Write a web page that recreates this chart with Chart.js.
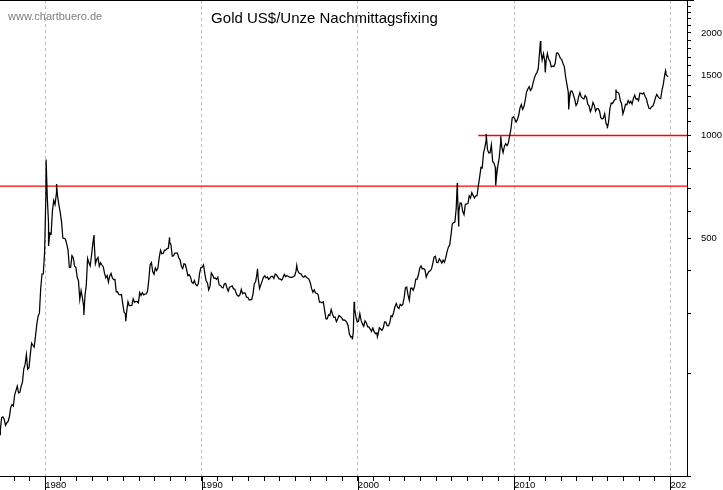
<!DOCTYPE html>
<html>
<head>
<meta charset="utf-8">
<title>Gold US$/Unze Nachmittagsfixing</title>
<script src="https://cdn.jsdelivr.net/npm/chart.js@4.4.1/dist/chart.umd.min.js"></script>
<style>
  html, body { margin: 0; padding: 0; background: #fff; }
  #goldChart { display: block; }
</style>
</head>
<body>
<canvas id="goldChart" width="723" height="490"></canvas>
<script>
// monthly fixing (US$/oz), starting January 1977
const startYear = 1977;
const gold1977to1979 = [
  132.3, 136.4, 148.4, 149.2, 146.6, 140.8, 143.4, 144.7, 149.5, 159.3, 162.0, 160.5,
  173.2, 178.2, 183.7, 175.4, 176.1, 183.7, 188.7, 206.5, 212.3, 227.2, 206.1, 207.8,
  227.3, 245.7, 242.1, 239.2, 257.6, 279.1, 294.7, 300.8, 355.2, 392.0, 392.3, 455.1
];
const gold1980s = [
  675.3, 665.3, 553.6, 517.4, 513.8, 600.7, 644.3, 626.5, 674.0, 661.1, 623.5, 594.9,
  557.4, 500.0, 498.9, 495.8, 479.7, 460.8, 409.3, 410.1, 444.0, 437.8, 413.4, 410.1,
  384.1, 374.3, 330.2, 350.5, 333.9, 314.9, 338.6, 364.3, 435.5, 422.6, 414.1, 444.3,
  481.4, 491.1, 419.7, 432.8, 438.4, 412.9, 422.8, 416.5, 411.9, 394.2, 381.8, 388.1,
  371.0, 386.9, 393.6, 381.8, 377.5, 377.7, 347.4, 347.7, 341.1, 340.2, 341.2, 320.2,
  303.0, 299.1, 304.0, 324.9, 316.5, 316.4, 317.3, 331.1, 323.8, 325.5, 325.3, 322.4,
  345.6, 338.9, 345.7, 340.4, 342.4, 342.6, 348.7, 376.6, 417.7, 423.4, 398.5, 391.3,
  408.3, 401.1, 408.9, 438.4, 460.2, 449.7, 450.6, 460.5, 460.4, 465.6, 466.8, 486.3,
  477.2, 442.1, 443.6, 451.6, 451.3, 451.6, 437.6, 431.4, 413.2, 406.5, 420.0, 418.5,
  404.0, 387.8, 390.2, 384.4, 371.0, 367.6, 375.0, 365.4, 362.0, 366.7, 394.3, 409.2
];
const gold1990s = [
  410.1, 416.8, 393.1, 374.3, 369.0, 352.3, 361.0, 394.8, 389.3, 380.7, 381.5, 378.2,
  383.7, 363.8, 363.3, 358.4, 356.8, 366.7, 367.7, 356.5, 348.8, 358.7, 360.1, 361.7,
  354.5, 353.9, 344.5, 338.6, 337.2, 340.8, 353.1, 343.0, 345.1, 344.4, 335.0, 334.8,
  329.0, 329.3, 330.1, 342.2, 367.2, 371.8, 392.0, 379.8, 355.3, 364.2, 373.6, 383.3,
  387.0, 381.7, 384.4, 378.0, 381.6, 385.6, 385.5, 380.4, 391.6, 389.8, 384.4, 379.3,
  378.6, 376.4, 382.1, 391.0, 385.1, 387.6, 386.2, 383.7, 383.1, 383.0, 385.5, 387.4,
  399.5, 404.8, 396.3, 392.9, 391.9, 385.3, 383.5, 387.5, 383.1, 381.1, 377.9, 369.3,
  355.0, 346.6, 351.8, 344.5, 343.8, 340.8, 324.1, 323.9, 322.8, 324.9, 306.0, 289.4,
  289.3, 297.5, 295.9, 308.4, 299.1, 292.3, 292.9, 284.1, 289.0, 296.1, 294.1, 291.7,
  287.1, 287.3, 285.9, 282.6, 276.4, 261.3, 256.1, 256.7, 264.7, 310.7, 293.2, 283.1
];
const gold2000s = [
  284.6, 299.9, 286.4, 279.7, 275.3, 285.7, 281.6, 274.5, 273.7, 270.1, 266.0, 272.0,
  265.5, 261.9, 263.0, 260.5, 272.4, 270.2, 267.5, 272.4, 283.4, 283.1, 276.2, 275.9,
  281.7, 295.5, 294.0, 302.7, 314.5, 321.2, 313.3, 310.3, 319.2, 316.6, 319.2, 333.4,
  356.9, 359.0, 340.6, 328.2, 355.7, 356.4, 351.0, 359.8, 378.9, 378.9, 389.9, 407.6,
  414.0, 405.3, 406.7, 403.3, 383.8, 392.4, 398.1, 400.5, 405.3, 420.5, 439.4, 442.1,
  424.0, 423.4, 434.2, 428.9, 421.9, 430.7, 424.5, 437.9, 456.1, 469.9, 476.7, 509.8,
  549.9, 555.0, 557.1, 610.6, 676.5, 596.2, 633.7, 632.6, 598.2, 585.8, 627.8, 629.8,
  631.2, 664.8, 654.9, 679.4, 666.9, 655.5, 665.3, 665.4, 712.7, 754.6, 806.3, 803.2,
  889.6, 922.3, 968.4, 909.7, 888.7, 889.5, 939.8, 839.0, 829.9, 806.6, 760.9, 816.1,
  858.7, 943.2, 924.3, 890.2, 928.6, 945.7, 934.2, 949.4, 996.6, 1043.2, 1127.0, 1134.7
];
const gold2010s = [
  1118.0, 1095.4, 1113.3, 1148.7, 1205.4, 1232.9, 1193.0, 1215.8, 1271.0, 1342.0, 1369.9, 1390.6,
  1356.4, 1372.7, 1424.0, 1473.8, 1510.4, 1528.7, 1572.8, 1755.8, 1771.9, 1665.2, 1739.0, 1652.3,
  1656.1, 1742.1, 1673.8, 1649.7, 1591.2, 1598.8, 1594.3, 1630.3, 1744.8, 1746.6, 1721.6, 1684.8,
  1671.8, 1627.6, 1593.1, 1487.9, 1414.0, 1343.4, 1285.5, 1351.7, 1348.6, 1316.6, 1275.9, 1225.4,
  1244.3, 1299.6, 1336.1, 1299.0, 1287.5, 1279.1, 1310.6, 1295.1, 1236.6, 1222.5, 1175.3, 1200.6,
  1250.8, 1227.1, 1178.6, 1198.9, 1198.6, 1181.5, 1128.3, 1117.9, 1124.8, 1159.3, 1085.7, 1068.3,
  1097.9, 1199.5, 1245.1, 1242.3, 1260.9, 1276.4, 1336.7, 1340.2, 1326.6, 1266.6, 1238.4, 1157.4,
  1192.1, 1234.2, 1231.4, 1266.9, 1246.0, 1260.3, 1236.8, 1283.0, 1314.1, 1279.5, 1281.9, 1264.5,
  1331.3, 1330.7, 1324.7, 1334.8, 1303.5, 1281.6, 1237.7, 1201.7, 1198.4, 1215.4, 1220.7, 1250.4,
  1291.8, 1320.1, 1300.9, 1285.9, 1283.7, 1359.0, 1412.9, 1500.4, 1510.6, 1494.8
];

// daily highs / lows that stand out in the picture
const peakDates  = [1980.055, 1980.21, 1980.72, 1982.47, 1983.12, 1985.15, 1987.95, 1993.58, 1996.09,
                    1999.65, 1999.76, 2001.25, 2006.36, 2006.45, 2008.21, 2008.82, 2009.14,
                    2011.68, 2011.99, 2013.49, 2015.96, 2016.51, 2019.68, 2019.86];
const peakValues = [850, 474, 720, 297, 510, 285, 502, 406, 415,
                    252, 325, 256, 725, 543, 1011, 713, 995,
                    1895, 1531, 1192, 1050, 1366, 1546, 1490];

// red horizontal lines
const lineLevels = [710, 1000];
const lineStarts = [1977, 2007.7];

const decadeYears = [1980, 1990, 2000, 2010, 2020];
const yLabelValues = [500, 1000, 1500, 2000];

const xMin = 1977.104, xMax = 2021.058;

const monthlyValues = [].concat(gold1977to1979, gold1980s, gold1990s, gold2000s, gold2010s);
const goldPoints = monthlyValues.map((v, i) => ({ x: startYear + (i + 0.5) / 12, y: v }))
  .concat(peakDates.map((d, i) => ({ x: d, y: peakValues[i] })))
  .sort((a, b) => a.x - b.x);

const redLines = lineLevels.map((lvl, i) => ({
  data: [{ x: lineStarts[i], y: lvl }, { x: xMax, y: lvl }],
  borderColor: '#ff0000',
  borderWidth: 1.3,
  pointRadius: 0
}));

const chartbueroExtras = {
  id: 'chartbueroExtras',
  beforeDraw(chart) {
    // cut the last year label at the axis corner like the original
    const ctx = chart.ctx;
    ctx.save();
    ctx.beginPath();
    ctx.rect(0, 0, chart.width, chart.chartArea.bottom + 1);
    ctx.rect(0, chart.chartArea.bottom + 1, 686, chart.height);
    ctx.clip();
  },
  afterDraw(chart) {
    const { ctx, chartArea, scales } = chart;
    ctx.restore();
    ctx.save();
    ctx.strokeStyle = '#000';
    ctx.lineWidth = 1;
    ctx.beginPath();
    ctx.moveTo(0, 0.5);
    ctx.lineTo(chartArea.right + 7, 0.5);
    decadeYears.forEach(yr => {
      const px = Math.round(scales.x.getPixelForValue(yr)) + 0.5;
      ctx.moveTo(px, chartArea.bottom);
      ctx.lineTo(px, chart.height);
    });
    ctx.stroke();

    ctx.textAlign = 'left';
    ctx.textBaseline = 'alphabetic';
    ctx.fillStyle = '#7d7d7d';
    ctx.font = '11px "Liberation Sans", Arial, sans-serif';
    ctx.fillText('www.chartbuero.de', 8, 20);

    ctx.textAlign = 'center';
    ctx.fillStyle = '#000';
    ctx.font = '15px "Liberation Sans", Arial, sans-serif';
    ctx.fillText('Gold US$/Unze Nachmittagsfixing', 324.5, 22.5);
    ctx.restore();
  }
};

Chart.defaults.font.family = '"Liberation Sans", Arial, sans-serif';

new Chart(document.getElementById('goldChart'), {
  type: 'line',
  data: {
    datasets: [{
      data: goldPoints,
      borderColor: '#000',
      borderWidth: 1.25,
      pointRadius: 0,
      tension: 0
    }].concat(redLines)
  },
  options: {
    responsive: false,
    devicePixelRatio: 1,
    animation: false,
    events: [],
    layout: { padding: 0 },
    plugins: { legend: { display: false }, tooltip: { enabled: false }, title: { display: false } },
    scales: {
      x: {
        type: 'linear',
        min: xMin,
        max: xMax,
        afterBuildTicks: s => {
          const t = [];
          for (let yr = 1978; yr <= 2020; yr++) t.push({ value: yr });
          s.ticks = t;
        },
        afterFit: s => { s.height = 14; s.paddingLeft = 0; s.paddingRight = 0; },
        grid: {
          color: c => (c.tick && decadeYears.includes(c.tick.value)) ? '#bcbcbc' : 'rgba(0,0,0,0)',
          lineWidth: 1,
          drawTicks: true,
          tickLength: 5,
          tickColor: '#000',
          tickWidth: 1,
          tickBorderDash: []
        },
        border: { display: true, color: '#000', width: 1, dash: [3, 3] },
        ticks: {
          autoSkip: false,
          maxRotation: 0,
          minRotation: 0,
          align: 'start',
          padding: 0,
          color: '#000',
          font: { size: 9.5, lineHeight: 1 },
          callback: v => decadeYears.includes(v) ? String(v) : ''
        }
      },
      y: {
        type: 'logarithmic',
        position: 'right',
        min: 100,
        max: 2500,
        afterBuildTicks: s => {
          const t = [];
          for (let v = 100; v <= 2400; v += 100) t.push({ value: v });
          s.ticks = t;
        },
        afterFit: s => { s.width = 36; s.paddingTop = 0; s.paddingBottom = 0; },
        grid: {
          drawOnChartArea: false,
          drawTicks: true,
          tickLength: 4,
          tickColor: '#000',
          tickWidth: 1
        },
        border: { display: true, color: '#000', width: 1 },
        ticks: {
          padding: 10,
          color: '#000',
          font: { size: 9.5, lineHeight: 1 },
          callback: v => yLabelValues.includes(v) ? String(v) : ''
        }
      }
    }
  },
  plugins: [chartbueroExtras]
});
</script>
</body>
</html>
